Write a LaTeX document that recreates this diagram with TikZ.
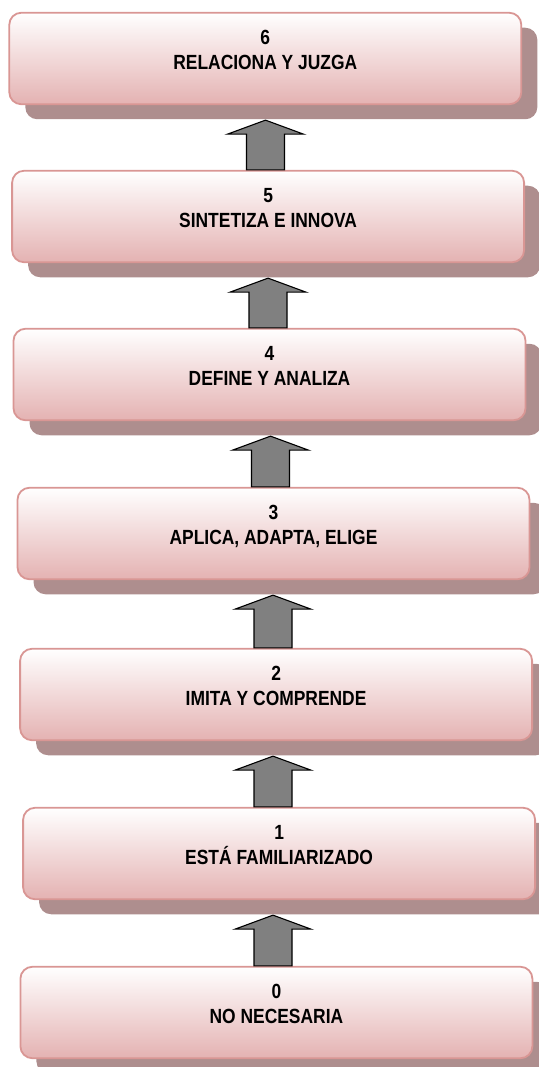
\documentclass[tikz,border=0pt]{standalone}
\usepackage{fontspec}
\newfontfamily\boxfont{Liberation Sans}[FakeStretch=0.85]
\usetikzlibrary{calc,shadows}

\definecolor{boxedge}{HTML}{D99694}
\definecolor{boxpink}{HTML}{E4B2B2}
\definecolor{boxshade}{HTML}{AE8E8E}
\definecolor{arrowgray}{HTML}{808080}

\tikzset{
  levelbox/.style={
    rectangle, rounded corners=12pt,
    minimum width=512pt, minimum height=91.5pt, inner sep=0pt,
    draw=boxedge, line width=1.8pt,
    top color=white, bottom color=boxpink,
    general shadow={fill=boxshade, shadow xshift=16pt, shadow yshift=-15pt}
  },
  leveltext/.style={anchor=base, inner sep=0pt,
    font=\boxfont\bfseries\fontsize{20.5}{25}\selectfont},
  blockarrow/.style={draw=black, line width=1.1pt, fill=arrowgray, line join=miter}
}

% up arrow between two levels: #1 upper box, #2 lower box, #3 centre x (pt)
\newcommand\levelarrow[3]{%
  \draw[blockarrow] let \p1 = (#1.south), \p2 = (#2.north) in
    (#3pt-19pt,\y2) -- (#3pt-19pt,\y1-29pt) -- (#3pt-38pt,\y1-29pt)
    -- (#3pt,\y1-15pt) -- (#3pt+38pt,\y1-29pt) -- (#3pt+19pt,\y1-29pt)
    -- (#3pt+19pt,\y2) -- cycle;}

\begin{document}
\begin{tikzpicture}[x=1pt,y=-1pt]
  \useasboundingbox (0,0) rectangle (538,1067);

  % levels: name / left / top / label
  \foreach \n/\l/\t/\lab in {
      6/8.5/12/RELACIONA Y JUZGA,
      5/11.3/170/SINTETIZA E INNOVA,
      4/12.7/328/DEFINE Y ANALIZA,
      3/16.7/487/{APLICA, ADAPTA, ELIGE},
      2/19.3/648/IMITA Y COMPRENDE,
      1/22.3/807/ESTÁ FAMILIARIZADO,
      0/19.6/966/NO NECESARIA} {
    \node[levelbox] (b\n) at (\l+256.8,\t+46.5) {};
    \node[leveltext] (num\n) at ($(b\n.north)+(0,33)$) {\n};
    \node[leveltext] (lab\n) at ($(b\n.north)+(0,58)$) {\lab};
  }

  % arrows pointing up from each level to the next
  \levelarrow{b6}{b5}{265.5}
  \levelarrow{b5}{b4}{268}
  \levelarrow{b4}{b3}{270.5}
  \levelarrow{b3}{b2}{273}
  \levelarrow{b2}{b1}{273}
  \levelarrow{b1}{b0}{273}
\end{tikzpicture}
\end{document}
